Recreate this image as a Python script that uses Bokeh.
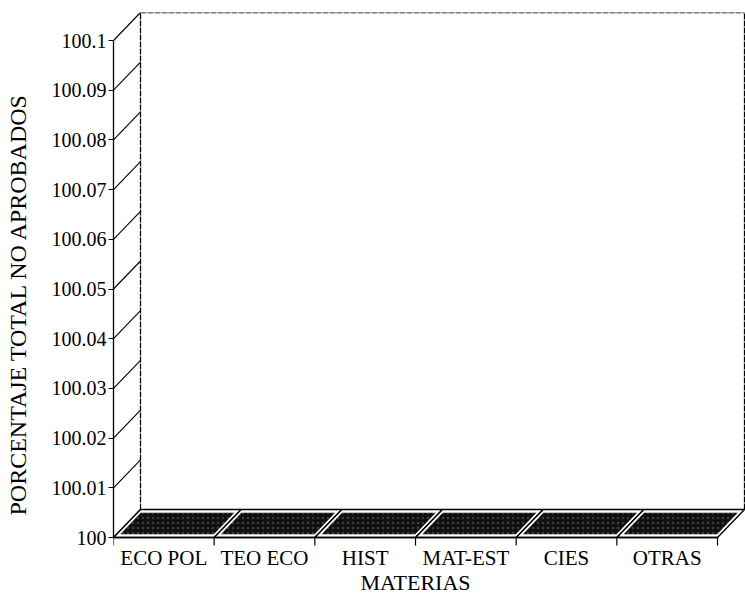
from bokeh.plotting import figure
from bokeh.models import (LinearAxis, FixedTicker, CustomJSTickFormatter, Range1d)
from bokeh.core.properties import value
from bokeh.embed import file_html
from bokeh.resources import INLINE

# ---- data ----
categories = ["ECO POL", "TEO ECO", "HIST", "MAT-EST", "CIES", "OTRAS"]
values = [100.0, 100.0, 100.0, 100.0, 100.0, 100.0]
y_ticks = [100.0, 100.01, 100.02, 100.03, 100.04, 100.05, 100.06, 100.07, 100.08, 100.09, 100.1]
y_label = "PORCENTAJE TOTAL NO APROBADOS"
x_label = "MATERIAS"

# ---- layout constants (pixels) ----
W, H = 745, 595
LEFT, TOP = 113, 12
PX_X = 100.67             # pixels per category
AXIS_PX = 497             # pixels from 100 to 100.1
TOP_GAP = 28              # pixels from top tick to frame top
DEPTH_X, DEPTH_Y = 27, 28
frame_w = W - LEFT
frame_h = H - TOP
y0, y1 = y_ticks[0], y_ticks[-1]
px_y = AXIS_PX / (y1 - y0)
below_px = frame_h - TOP_GAP - AXIS_PX
x_end = frame_w / PX_X
y_end = y1 + TOP_GAP / px_y
y_start = y0 - below_px / px_y
dx = DEPTH_X / PX_X
dy = DEPTH_Y / px_y
n = len(categories)

FONT = "Liberation Serif"

p = figure(width=W, height=H, x_range=Range1d(0, x_end), y_range=Range1d(y_start, y_end),
           output_backend="svg", toolbar_location=None,
           min_border_left=LEFT, min_border_right=0, min_border_top=TOP,
           min_border_bottom=0, x_axis_location=None, y_axis_location=None)
p.outline_line_color = None
p.grid.visible = False
p.background_fill_color = "white"
p.border_fill_color = "white"

# back wall edges
p.segment(x0=[dx, dx, n + dx], y0=[y0 + dy, y1 + dy, y0 + dy],
          x1=[dx, n + dx, n + dx], y1=[y_end, y1 + dy, y_end],
          line_color="black", line_width=1.3, line_dash="6 1")
# floor back edge
p.segment(x0=[dx], y0=[y0 + dy], x1=[n + dx], y1=[y0 + dy],
          line_color="black", line_width=1.2, line_dash="5 2")

# diagonal connectors from front axis ticks to back wall
p.segment(x0=[0] * len(y_ticks), y0=y_ticks, x1=[dx] * len(y_ticks),
          y1=[t + dy for t in y_ticks], line_color="black", line_width=1.1)

# floor cells (bar outlines) and slabs (bar tops at value)
cell_xs, cell_ys, slab_xs, slab_ys = [], [], [], []
g, f = 0.035, 0.12
for i, v in enumerate(values):
    cell_xs.append([i, i + 1, i + 1 + dx, i + dx])
    cell_ys.append([y0, y0, v + dy, v + dy])
    slab_xs.append([i + g + dx * f, i + 1 - g + dx * f, i + 1 - g + dx * (1 - f), i + g + dx * (1 - f)])
    slab_ys.append([v + dy * f, v + dy * f, v + dy * (1 - f), v + dy * (1 - f)])
p.patches(xs=cell_xs, ys=cell_ys, fill_color="white", line_color="black", line_width=1.4)
p.patches(xs=slab_xs, ys=slab_ys, fill_color="#101010", line_color=None,
          hatch_pattern="dot", hatch_color="white", hatch_alpha=0.2,
          hatch_scale=5, hatch_weight=1)

# front baseline and category boundary ticks
p.segment(x0=[0], y0=[y0], x1=[n], y1=[y0], line_color="black", line_width=1.4)
bounds_x = list(range(n + 1))
p.segment(x0=bounds_x, y0=[y0] * (n + 1), x1=bounds_x, y1=[y0 - 8 / px_y] * (n + 1),
          line_color="black", line_width=1.2)

# category labels and x title
centers = [i + 0.5 for i in range(n)]
p.text(x=centers, y=[y0 - 20 / px_y] * n, text=categories,
       text_font=value(FONT), text_font_size="21px", text_color="black",
       text_align="center", text_baseline="middle")
p.text(x=[n / 2], y=[y0 - 45 / px_y], text=[x_label],
       text_font=value(FONT), text_font_size="22px", text_color="black",
       text_align="center", text_baseline="middle")

# left (front) axis
yaxis = LinearAxis(ticker=FixedTicker(ticks=y_ticks),
                   formatter=CustomJSTickFormatter(code="return String(Math.round(tick*100)/100);"),
                   bounds=(y0, y1), axis_label=y_label)
yaxis.axis_line_color = "black"
yaxis.axis_line_width = 1.3
yaxis.major_tick_out = 5
yaxis.major_tick_in = 0
yaxis.major_tick_line_width = 1.2
yaxis.minor_tick_line_color = None
yaxis.major_label_standoff = 2
yaxis.major_label_text_font = FONT
yaxis.major_label_text_font_size = "20px"
yaxis.major_label_text_color = "black"
yaxis.axis_label_text_font = FONT
yaxis.axis_label_text_font_size = "24px"
yaxis.axis_label_text_font_style = "normal"
yaxis.axis_label_text_color = "black"
yaxis.axis_label_standoff = 18
p.add_layout(yaxis, "left")

open("out.html", "w").write(file_html(p, INLINE))
